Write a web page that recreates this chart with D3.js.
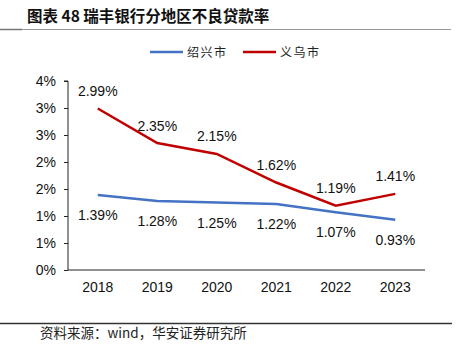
<!DOCTYPE html>
<html>
<head>
<meta charset="utf-8">
<script src="https://cdn.jsdelivr.net/npm/d3@7"></script>
<style>
body{margin:0;background:#fff;}
svg{display:block;font-family:"Liberation Sans",Arial,sans-serif;}
</style>
</head>
<body>
<div id="chart"></div>
<script>
const w = 464;
const h = 351;

// data
const years = ["2018","2019","2020","2021","2022","2023"];
const shaoxing = [1.39,1.28,1.25,1.22,1.07,0.93];
const yiwu = [2.99,2.35,2.15,1.62,1.19,1.41];
const yTicks = [0,0.5,1,1.5,2,2.5,3,3.5];
const seriesNames = ["绍兴市","义乌市"];
const colors = ["#4472C4","#C00000"];

const xLeft = 68, xRight = 425;
const yTop = 81, yBottom = 270;

const svg = d3.select("#chart")
.append("svg")
.attr("width",w)
.attr("height",h);

//Title
svg.append("text")
.attr("x",27)
.attr("y",22)
.attr("font-size",15.5)
.attr("font-weight","bold")
.attr("font-family","'Noto Sans CJK SC',sans-serif")
.attr("fill","#111")
.text("图表 48 瑞丰银行分地区不良贷款率");
svg.append("line").attr("x1",0).attr("x2",451).attr("y1",29.5).attr("y2",29.5)
.attr("stroke","#999").attr("stroke-width",1.2);
svg.append("line").attr("x1",0).attr("x2",22).attr("y1",29.5).attr("y2",29.5)
.attr("stroke","#777").attr("stroke-width",1.5);

//Scales
const x = d3.scaleBand().domain(years).range([xLeft,xRight]);
const y = d3.scaleLinear().domain([0,3.5]).range([yBottom,yTop]);

//Y axis
const yAxis = svg.append("g")
.attr("transform",`translate(${xLeft},0)`)
.call(d3.axisLeft(y).tickValues(yTicks).tickSize(4).tickPadding(8).tickFormat(d => Math.round(d) + "%"));
yAxis.selectAll("text").attr("font-size",14).attr("fill","#111").attr("font-family","'Liberation Sans',Arial,sans-serif");
yAxis.selectAll("line").attr("stroke","#222");
yAxis.select(".domain").attr("stroke","#222").attr("d",`M-4,${yTop}H0V${yBottom}`);

//X axis
const xAxis = svg.append("g")
.attr("transform",`translate(0,${yBottom})`)
.call(d3.axisBottom(x).tickSize(0).tickPadding(12));
xAxis.selectAll("text").attr("font-size",14).attr("fill","#111").attr("font-family","'Liberation Sans',Arial,sans-serif");
xAxis.select(".domain").attr("stroke","#222").attr("d",`M${xLeft},0H${xRight}`);

//Lines
const line = d3.line()
.x((d,i) => x(years[i]) + x.bandwidth()/2)
.y(d => y(d));

const series = [shaoxing, yiwu];
series.forEach((s,k) => {
    svg.append("path")
    .datum(s)
    .attr("fill","none")
    .attr("stroke",colors[k])
    .attr("stroke-width",2.5)
    .attr("d",line);

    svg.selectAll(".lbl"+k)
    .data(s)
    .enter()
    .append("text")
    .attr("class","lbl"+k)
    .attr("x",(d,i) => x(years[i]) + x.bandwidth()/2)
    .attr("y",d => k==0 ? y(d) + 25 : y(d) - 12.5)
    .attr("text-anchor","middle")
    .attr("font-size",14)
    .attr("fill","#111")
    .text(d => d.toFixed(2) + "%");
});

//Legend
const legendX = [150,243];
seriesNames.forEach((n,k) => {
    svg.append("line")
    .attr("x1",legendX[k]).attr("x2",legendX[k]+33)
    .attr("y1",52).attr("y2",52)
    .attr("stroke",colors[k]).attr("stroke-width",2.5);
    svg.append("text")
    .attr("x",legendX[k]+37)
    .attr("y",56.5)
    .attr("font-size",12)
    .attr("letter-spacing",1.5)
    .attr("font-family","'Noto Sans CJK SC',sans-serif")
    .attr("fill","#222")
    .text(n);
});

//Footer
svg.append("line").attr("x1",0).attr("x2",452).attr("y1",323.5).attr("y2",323.5)
.attr("stroke","#333").attr("stroke-width",1.5);
svg.append("text")
.attr("x",40)
.attr("y",338)
.attr("font-size",13.5)
.attr("font-family","'Noto Sans CJK SC',sans-serif")
.attr("fill","#222")
.text("资料来源：wind，华安证券研究所");
</script>
</body>
</html>
